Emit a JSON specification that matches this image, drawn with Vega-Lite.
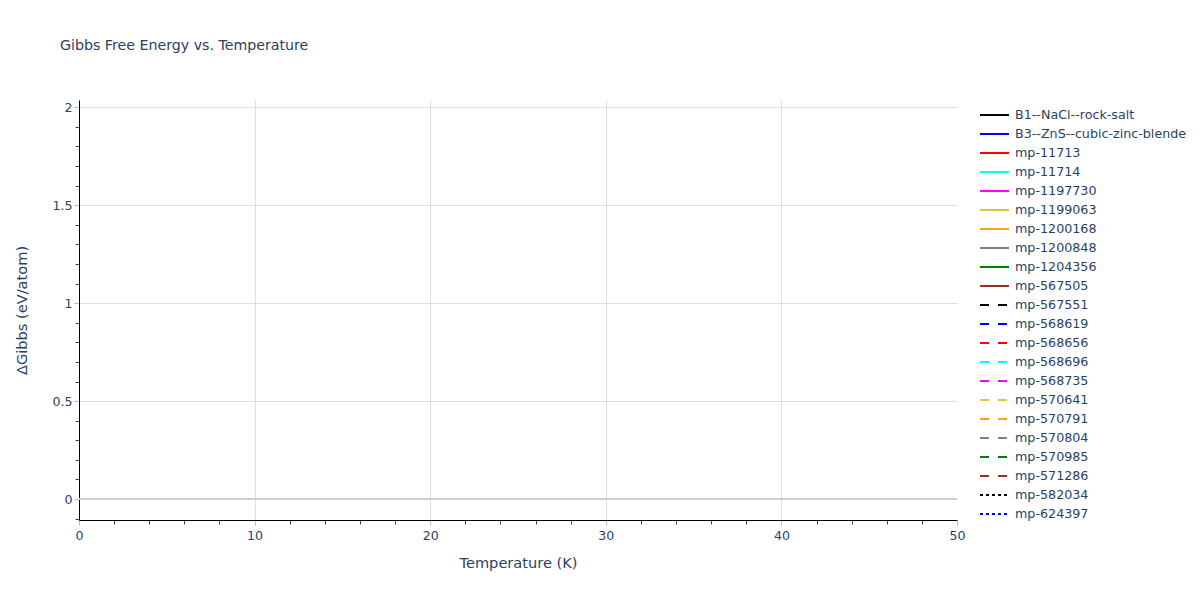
{
  "$schema": "https://vega.github.io/schema/vega-lite/v6.json",
  "width": 878,
  "height": 420,
  "autosize": "none",
  "padding": {"left": 79, "top": 100, "right": 243, "bottom": 80},
  "background": "white",
  "config": {
    "font": "DejaVu Sans",
    "view": {"stroke": null},
    "axis": {"labelFont": "DejaVu Sans", "titleFont": "DejaVu Sans", "labelColor": "#2a3f5f", "titleColor": "#2a3f5f", "labelFontSize": 12.6, "titleFontSize": 14.6, "titleFontWeight": "normal", "labelFlush": false},
    "legend": {"labelFont": "DejaVu Sans"}
  },
  "title": {
    "text": "Gibbs Free Energy vs. Temperature",
    "anchor": "start",
    "frame": "group",
    "dx": -19,
    "offset": 47,
    "fontSize": 14.2,
    "fontWeight": "normal",
    "color": "#2a3f5f",
    "font": "DejaVu Sans"
  },
  "data": {
    "values": [
      {"series": "B1--NaCl--rock-salt", "temperature": null, "gibbs": null},
      {"series": "B3--ZnS--cubic-zinc-blende", "temperature": null, "gibbs": null},
      {"series": "mp-11713", "temperature": null, "gibbs": null},
      {"series": "mp-11714", "temperature": null, "gibbs": null},
      {"series": "mp-1197730", "temperature": null, "gibbs": null},
      {"series": "mp-1199063", "temperature": null, "gibbs": null},
      {"series": "mp-1200168", "temperature": null, "gibbs": null},
      {"series": "mp-1200848", "temperature": null, "gibbs": null},
      {"series": "mp-1204356", "temperature": null, "gibbs": null},
      {"series": "mp-567505", "temperature": null, "gibbs": null},
      {"series": "mp-567551", "temperature": null, "gibbs": null},
      {"series": "mp-568619", "temperature": null, "gibbs": null},
      {"series": "mp-568656", "temperature": null, "gibbs": null},
      {"series": "mp-568696", "temperature": null, "gibbs": null},
      {"series": "mp-568735", "temperature": null, "gibbs": null},
      {"series": "mp-570641", "temperature": null, "gibbs": null},
      {"series": "mp-570791", "temperature": null, "gibbs": null},
      {"series": "mp-570804", "temperature": null, "gibbs": null},
      {"series": "mp-570985", "temperature": null, "gibbs": null},
      {"series": "mp-571286", "temperature": null, "gibbs": null},
      {"series": "mp-582034", "temperature": null, "gibbs": null},
      {"series": "mp-624397", "temperature": null, "gibbs": null}
    ]
  },
  "layer": [
    {
      "mark": {"type": "rule", "color": "#cccccc", "strokeWidth": 2},
      "encoding": {
        "y": {"datum": 0, "type": "quantitative", "axis": null}
      }
    },
    {
      "mark": {"type": "point", "opacity": 0},
      "encoding": {
        "x": {"datum": 0, "type": "quantitative",
          "axis": {"orient": "bottom", "values": [2,4,6,8,12,14,16,18,22,24,26,28,32,34,36,38,42,44,46,48], "labels": false, "grid": false, "domain": false, "tickColor": "#444444", "tickSize": 4, "title": null}},
        "y": {"datum": 0, "type": "quantitative",
          "axis": {"orient": "left", "values": [-0.1,0.1,0.2,0.3,0.4,0.6,0.7,0.8,0.9,1.1,1.2,1.3,1.4,1.6,1.7,1.8,1.9], "labels": false, "grid": false, "domain": false, "tickColor": "#444444", "tickSize": 4, "title": null}}
      }
    },
    {
      "mark": {"type": "line", "strokeWidth": 2, "clip": true},
      "encoding": {
        "x": {
          "field": "temperature", "type": "quantitative",
          "scale": {"domain": [0, 50], "nice": false, "zero": false},
          "axis": {
            "orient": "bottom",
            "title": "Temperature (K)",
            "values": [0, 10, 20, 30, 40, 50],
            "format": "d",
            "grid": true,
            "gridColor": {"condition": {"test": "datum.value === 0 || datum.value === 50", "value": "transparent"}, "value": "#dddddd"},
            "domainColor": "#000000",
            "domainWidth": 1,
            "tickColor": "#bbbbbb",
            "tickSize": 5,
            "labelPadding": 4,
            "titlePadding": 14
          }
        },
        "y": {
          "field": "gibbs", "type": "quantitative",
          "scale": {"domain": [-0.107, 2.037], "nice": false, "zero": false},
          "axis": {
            "orient": "left",
            "title": "ΔGibbs (eV/atom)",
            "values": [0, 0.5, 1, 1.5, 2],
            "format": "~g",
            "grid": true,
            "gridColor": {"condition": {"test": "datum.value === 0", "value": "transparent"}, "value": "#dddddd"},
            "domainColor": "#000000",
            "domainWidth": 1,
            "tickColor": "#bbbbbb",
            "tickSize": 5,
            "labelPadding": 2,
            "titlePadding": 22
          }
        },
        "color": {
          "field": "series", "type": "nominal",
          "scale": {
            "domain": ["B1--NaCl--rock-salt", "B3--ZnS--cubic-zinc-blende", "mp-11713", "mp-11714", "mp-1197730", "mp-1199063", "mp-1200168", "mp-1200848", "mp-1204356", "mp-567505", "mp-567551", "mp-568619", "mp-568656", "mp-568696", "mp-568735", "mp-570641", "mp-570791", "mp-570804", "mp-570985", "mp-571286", "mp-582034", "mp-624397"],
            "range": ["#000000", "#0000ff", "#ff0000", "#00ffff", "#ff00ff", "#e6c23a", "#ffa500", "#808080", "#008000", "#a52a2a", "#000000", "#0000ff", "#ff0000", "#00ffff", "#ff00ff", "#e6c23a", "#ffa500", "#808080", "#008000", "#a52a2a", "#000000", "#0000ff"]
          },
          "legend": {
            "title": null,
            "orient": "none",
            "legendX": 904.5,
            "legendY": 4,
            "symbolType": "M-1.45,0H1.45",
            "symbolSize": 400,
            "symbolStrokeWidth": 2,
            "labelFontSize": 12.7,
            "labelColor": "#2a3f5f",
            "labelOffset": 9.5,
            "labelLimit": 300,
            "rowPadding": 1,
            "symbolLimit": 50
          }
        },
        "strokeDash": {
          "field": "series", "type": "nominal",
          "scale": {
            "domain": ["B1--NaCl--rock-salt", "B3--ZnS--cubic-zinc-blende", "mp-11713", "mp-11714", "mp-1197730", "mp-1199063", "mp-1200168", "mp-1200848", "mp-1204356", "mp-567505", "mp-567551", "mp-568619", "mp-568656", "mp-568696", "mp-568735", "mp-570641", "mp-570791", "mp-570804", "mp-570985", "mp-571286", "mp-582034", "mp-624397"],
            "range": [[1,0],[1,0],[1,0],[1,0],[1,0],[1,0],[1,0],[1,0],[1,0],[1,0],[9,9],[9,9],[9,9],[9,9],[9,9],[9,9],[9,9],[9,9],[9,9],[9,9],[3,3],[3,3]]
          },
          "legend": {
            "title": null,
            "orient": "none",
            "legendX": 904.5,
            "legendY": 4,
            "symbolType": "M-1.45,0H1.45",
            "symbolSize": 400,
            "symbolStrokeWidth": 2,
            "labelFontSize": 12.7,
            "labelColor": "#2a3f5f",
            "labelOffset": 9.5,
            "labelLimit": 300,
            "rowPadding": 1,
            "symbolLimit": 50
          }
        }
      }
    }
  ],
  "resolve": {"axis": {"x": "independent", "y": "independent"}}
}
